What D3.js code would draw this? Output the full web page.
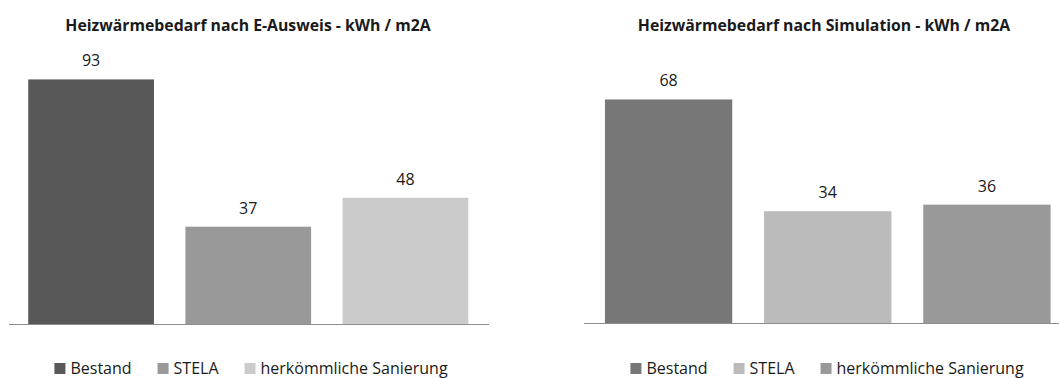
<!DOCTYPE html>
<html>
<head>
<meta charset="utf-8">
<script src="https://cdn.jsdelivr.net/npm/d3@7"></script>
<style>
  html, body { margin: 0; padding: 0; background: #fff; }
  svg { display: block; }
  text { font-family: "Open Sans", "DejaVu Sans", sans-serif; fill: #1a1a1a; }
</style>
</head>
<body>
<svg id="chart" width="1059" height="378"></svg>
<script>
// Kategorien (gemeinsam für beide Diagramme)
const categories = ["Bestand", "STELA", "herkömmliche Sanierung"];

// Heizwärmebedarf laut Energieausweis (kWh / m²a)
const valuesAusweis = [93, 37, 48];
// Heizwärmebedarf laut Simulation (kWh / m²a)
const valuesSimulation = [68, 34, 36];

const titleAusweis = "Heizwärmebedarf nach E-Ausweis - kWh / m2A";
const titleSimulation = "Heizwärmebedarf nach Simulation - kWh / m2A";

const svg = d3.select("#chart");

function drawPanel(cfg) {
  const g = svg.append("g");

  const x = d3.scaleBand()
    .domain(categories)
    .range([cfg.x0, cfg.x1])
    .paddingInner(0.2)
    .paddingOuter(0.1);

  const y = d3.scaleLinear()
    .domain([0, cfg.yMax])
    .range([cfg.base, cfg.top]);

  const color = d3.scaleOrdinal().domain(categories).range(cfg.colors);

  const data = categories.map((c, i) => ({ cat: c, value: cfg.values[i] }));

  g.selectAll("rect.bar")
    .data(data)
    .join("rect")
    .attr("class", "bar")
    .attr("x", d => x(d.cat))
    .attr("width", x.bandwidth())
    .attr("y", d => y(d.value))
    .attr("height", d => y(0) - y(d.value))
    .attr("fill", d => color(d.cat));

  g.selectAll("text.val")
    .data(data)
    .join("text")
    .attr("class", "val")
    .attr("x", d => x(d.cat) + x.bandwidth() / 2)
    .attr("y", d => y(d.value) - 13)
    .attr("text-anchor", "middle")
    .style("font-size", "16px")
    .text(d => d.value);

  // Kategorieachse (nur Grundlinie)
  g.append("line")
    .attr("x1", cfg.axisX0).attr("x2", cfg.axisX1)
    .attr("y1", y(0) + 0.5).attr("y2", y(0) + 0.5)
    .attr("stroke", "#8c8c8c")
    .attr("stroke-width", 1);

  // Titel
  g.append("text")
    .attr("x", cfg.titleX)
    .attr("y", 31)
    .attr("text-anchor", "middle")
    .style("font-size", "15.8px")
    .style("font-weight", "bold")
    .text(cfg.title);

  // Legende
  const leg = g.append("g");
  let cx = 0;
  categories.forEach((c, i) => {
    const it = leg.append("g");
    it.append("rect")
      .attr("x", 0).attr("y", -11)
      .attr("width", 11).attr("height", 11)
      .attr("fill", color(c));
    const t = it.append("text")
      .attr("x", 16).attr("y", 0)
      .style("font-size", "16px")
      .text(c);
    const w = 16 + t.node().getComputedTextLength();
    it.attr("transform", `translate(${cx},0)`);
    cx += w + (i < categories.length - 1 ? 26 : 0);
  });
  leg.attr("transform", `translate(${cfg.legendX - cx / 2},374)`);
}

drawPanel({
  values: valuesAusweis,
  title: titleAusweis,
  colors: ["#585858", "#999999", "#cbcbcb"],
  x0: 12.5, x1: 484, base: 324, top: 61, yMax: 100,
  axisX0: 9, axisX1: 489,
  titleX: 248, legendX: 251
});

drawPanel({
  values: valuesSimulation,
  title: titleSimulation,
  colors: ["#777777", "#bbbbbb", "#999999"],
  x0: 589, x1: 1066.5, base: 323, top: 60, yMax: 80,
  axisX0: 584, axisX1: 1059,
  titleX: 824, legendX: 827
});
</script>
</body>
</html>
